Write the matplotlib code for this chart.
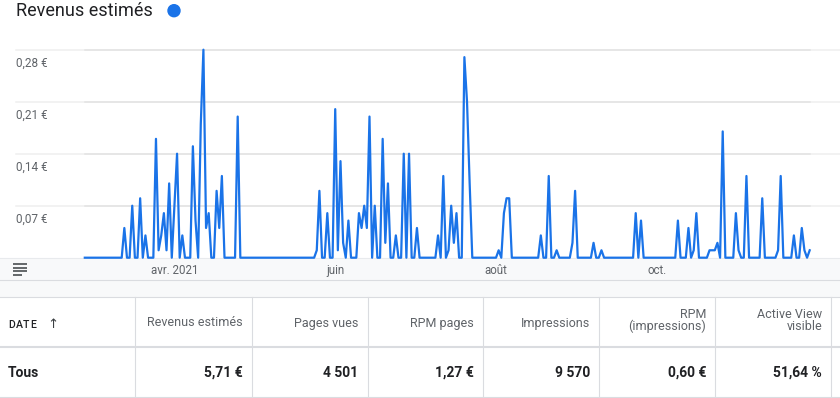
import numpy as np
import matplotlib.pyplot as plt
from matplotlib.patches import Rectangle, Circle
from matplotlib import transforms

plt.rcParams['font.family'] = ['Roboto', 'DejaVu Sans']

# daily estimated revenue in EUR, one value per day from 26 Feb 2021
start = np.datetime64('2021-02-26')
revenue = [
    0, 0, 0, 0, 0, 0, 0, 0, 0, 0,
    0, 0, 0, 0, 0, 0.04, 0, 0, 0.07, 0,
    0, 0.08, 0, 0.03, 0, 0, 0, 0.16, 0.01, 0.03,
    0.06, 0.01, 0.10, 0, 0.07, 0.14, 0, 0.03, 0, 0,
    0, 0.15, 0.05, 0, 0.18, 0.28, 0.04, 0.06, 0, 0,
    0.09, 0.04, 0.11, 0, 0, 0, 0, 0, 0.19, 0,
    0, 0, 0, 0, 0, 0, 0, 0, 0, 0,
    0, 0, 0, 0, 0, 0, 0, 0, 0, 0,
    0, 0, 0, 0, 0, 0, 0, 0, 0.01, 0.09,
    0, 0, 0.06, 0, 0, 0.20, 0.01, 0.13, 0.02, 0,
    0.05, 0, 0, 0, 0.06, 0.04, 0.07, 0.04, 0.19, 0,
    0.07, 0, 0, 0.16, 0.02, 0.10, 0, 0, 0.03, 0,
    0, 0.14, 0, 0.14, 0, 0, 0.04, 0, 0, 0,
    0, 0, 0, 0, 0.03, 0, 0.11, 0, 0.01, 0.07,
    0.02, 0.06, 0, 0, 0.27, 0.21, 0.10, 0, 0, 0,
    0, 0, 0, 0, 0, 0, 0, 0.01, 0, 0.06,
    0.08, 0.08, 0, 0, 0, 0, 0, 0, 0, 0,
    0, 0, 0, 0.03, 0, 0, 0.11, 0, 0, 0.01,
    0, 0, 0, 0, 0, 0.02, 0.09, 0, 0, 0,
    0, 0, 0, 0.02, 0, 0, 0.01, 0, 0, 0,
    0, 0, 0, 0, 0, 0, 0, 0, 0, 0.06,
    0, 0.05, 0, 0, 0, 0, 0, 0, 0, 0,
    0, 0, 0, 0, 0, 0.05, 0, 0, 0, 0.04,
    0, 0.01, 0.06, 0, 0, 0, 0, 0.01, 0.01, 0.01,
    0.02, 0, 0.17, 0, 0, 0, 0, 0.06, 0.01, 0,
    0, 0.11, 0, 0, 0, 0, 0, 0.08, 0, 0,
    0, 0, 0, 0.01, 0.11, 0, 0, 0, 0, 0.03,
    0, 0, 0.04, 0.01, 0, 0.01,
]
days = start + np.arange(len(revenue))

month_ticks = np.array(['2021-04-01', '2021-06-01', '2021-08-01', '2021-10-01'], dtype='datetime64[D]')
month_labels = ['avr. 2021', 'juin', 'août', 'oct.']
y_ticks = [0.07, 0.14, 0.21, 0.28]
y_labels = ['0,07 €', '0,14 €', '0,21 €', '0,28 €']

headers = [['DATE'], ['Revenus estimés'], ['Pages vues'], ['RPM pages'],
           ['Impressions'], ['RPM', '(impressions)'], ['Active View', 'visible']]
totals = ['Tous', '5,71 €', '4 501', '1,27 €', '9 570', '0,60 €', '51,64 %']
col_edges = [135.3, 251.7, 367.7, 483.3, 599.3, 715.3, 831.3]

W, H = 840, 398
fig = plt.figure(figsize=(W / 100, H / 100), dpi=100)

# pixel-space layer for the page furniture
bg = fig.add_axes([0, 0, 1, 1])
bg.set_xlim(0, W)
bg.set_ylim(H, 0)
bg.axis('off')

blue = '#1a73e8'
grey_txt = '#5f6368'
dark = '#202124'
rule = '#dadce0'

bg.text(16, 16.3, 'Revenus estimés', fontsize=13, color=dark, va='baseline', ha='left')
bg.add_patch(Circle((174, 10.7), 6, color=blue))

# band under the chart
bg.add_patch(Rectangle((0, 257.7), W, 39.5, fc='#f8f9fa', ec='none'))
bg.plot([0, W], [257.9, 257.9], color='#e8eaed', lw=0.8)
bg.plot([0, W], [280, 280], color=rule, lw=0.8)
bg.plot([0, W], [297, 297], color=rule, lw=0.8)
for yy, x2 in zip([264, 267.5, 271, 274.5], [27, 27, 27, 22]):
    bg.plot([13, x2], [yy, yy], color='#3c4043', lw=1.1, solid_capstyle='butt')

# table
bg.plot([0, W], [347, 347], color=rule, lw=1.5)
bg.plot([0, W], [397, 397], color=rule, lw=0.8)
for xe in col_edges:
    bg.plot([xe, xe], [297, H], color=rule, lw=0.8)

# "DATE" is drawn with letter spacing, one glyph at a time
renderer = fig.canvas.get_renderer()
xc = 8.0
for ch in headers[0][0]:
    t = bg.text(xc, 327.5, ch, fontsize=7.6, color=dark, weight='medium', va='baseline')
    xc += t.get_window_extent(renderer).width + 0.7
bg.text(47.5, 327.5, '↑', fontsize=9.5, color='#3c4043', va='baseline', family=['DejaVu Sans'])
bg.text(8, 377, totals[0], fontsize=10, color=dark, weight='bold', va='baseline')
for xe, hdr, val in zip(col_edges[1:], headers[1:], totals[1:]):
    xr = xe - 9.2
    if len(hdr) == 1:
        bg.text(xr, 326.5, hdr[0], fontsize=9, color=grey_txt, ha='right', va='baseline')
    else:
        bg.text(xr, 318.0, hdr[0], fontsize=9, color=grey_txt, ha='right', va='baseline')
        bg.text(xr, 330.3, hdr[1], fontsize=9, color=grey_txt, ha='right', va='baseline')
    bg.text(xr, 377, val, fontsize=10, color=dark, weight='bold', ha='right', va='baseline')

# chart
x0, x1 = 84.8, 809.7
y_top, y_bot = 49.7, 257.7
ax = fig.add_axes([x0 / W, (H - y_bot) / H, (x1 - x0) / W, (y_bot - y_top) / H])
ax.patch.set_alpha(0)
ax.set_xlim(days[0], days[-1])
ax.set_ylim(0, 0.28)
for s in ax.spines.values():
    s.set_visible(False)
ax.set_yticks([])
ax.set_xticks(month_ticks)
ax.set_xticklabels(month_labels)
ax.tick_params(axis='x', length=0, pad=4.5, labelsize=8.3, labelcolor=grey_txt)

fx = lambda px: (px - x0) / (x1 - x0)
for v in y_ticks:
    ax.axhline(v, xmin=fx(16), xmax=fx(840), color='#efefef', lw=1.1, clip_on=False, zorder=1)
    ax.axhline(v, xmin=0, xmax=1, color='#e3e3e3', lw=1.1, clip_on=False, zorder=1)

lbl_tf = transforms.blended_transform_factory(fig.transFigure, ax.transData) + \
    transforms.ScaledTranslation(0, -17.3 / 100, fig.dpi_scale_trans)
for v, lab in zip(y_ticks, y_labels):
    ax.text(16 / W, v, lab, transform=lbl_tf, fontsize=8.5, color=grey_txt,
            ha='left', va='baseline')

ax.plot(days, revenue, color=blue, lw=1.6, clip_on=False, zorder=3)

fig.savefig('out.png', dpi=100)
